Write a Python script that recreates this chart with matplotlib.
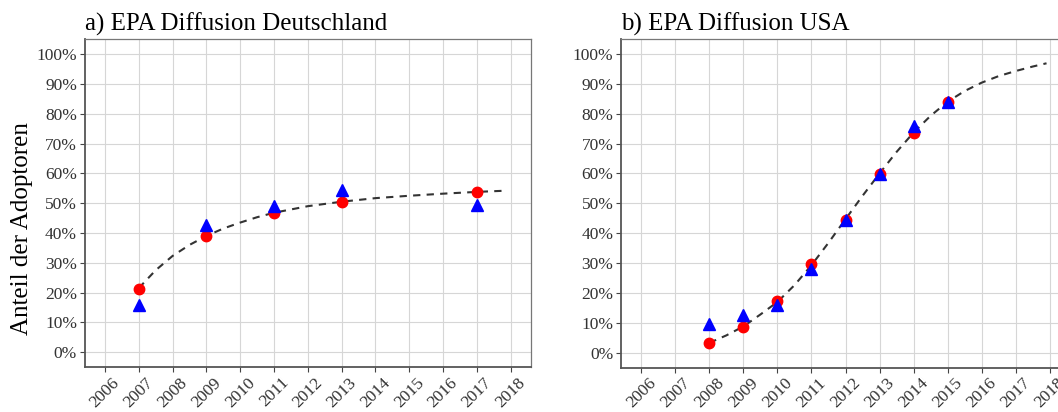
import matplotlib
matplotlib.use("Agg")
import matplotlib.pyplot as plt
from matplotlib.ticker import PercentFormatter

plt.rcParams['font.family'] = ['Liberation Serif', 'DejaVu Serif']

# --- Data ---
years_de = [2007, 2009, 2011, 2013, 2017]
de_red = [0.211, 0.391, 0.467, 0.504, 0.538]
de_blue = [0.159, 0.427, 0.492, 0.546, 0.494]
fit_years_de = [2007.0, 2007.5, 2008.0, 2008.5, 2009.0, 2009.5, 2010.0, 2010.5,
                2011.0, 2012.0, 2013.0, 2014.0, 2015.0, 2016.0, 2017.0, 2017.86]
fit_de = [0.215, 0.275, 0.323, 0.360, 0.390, 0.415, 0.435, 0.453,
          0.468, 0.490, 0.505, 0.517, 0.525, 0.532, 0.538, 0.542]

years_us = [2008, 2009, 2010, 2011, 2012, 2013, 2014, 2015]
us_red = [0.031, 0.086, 0.174, 0.296, 0.444, 0.598, 0.737, 0.840]
us_blue = [0.097, 0.126, 0.160, 0.281, 0.445, 0.597, 0.759, 0.841]
fit_years_us = [2008.0, 2008.5, 2009.0, 2009.5, 2010.0, 2010.5, 2011.0, 2011.5,
                2012.0, 2012.5, 2013.0, 2013.5, 2014.0, 2014.5, 2015.0, 2015.5,
                2016.0, 2016.5, 2017.0, 2017.5, 2017.91]
fit_us = [0.033, 0.058, 0.088, 0.128, 0.170, 0.226, 0.293, 0.368,
          0.447, 0.525, 0.600, 0.672, 0.737, 0.793, 0.840, 0.876,
          0.904, 0.926, 0.943, 0.958, 0.969]

year_ticks = list(range(2006, 2019))
pct_ticks = [i / 10 for i in range(11)]

W, H = 1058, 412
fig = plt.figure(figsize=(W / 100, H / 100), dpi=100)

ax1 = fig.add_axes([84.7 / W, (H - 367) / H, 446.3 / W, 327.6 / H])
ax2 = fig.add_axes([621 / W, (H - 367.6) / H, 449 / W, 328.5 / H])


def style_panel(ax, title):
    ax.set_xlim(2005.4, 2018.6)
    ax.set_ylim(-0.05, 1.05)
    ax.set_xticks(year_ticks)
    ax.set_xticklabels([str(y) for y in year_ticks], rotation=45,
                       ha='center', va='top')
    ax.set_yticks(pct_ticks)
    ax.yaxis.set_major_formatter(PercentFormatter(1.0, decimals=0))
    ax.grid(True, color='#d6d6d6', linewidth=0.8)
    ax.set_axisbelow(True)
    ax.tick_params(axis='both', labelsize=12.5, labelcolor='#333333',
                   color='#444444', length=3.5, width=0.8, pad=2)
    for s in ['top', 'right']:
        ax.spines[s].set_color('#777777')
        ax.spines[s].set_linewidth(0.9)
    for s in ['left', 'bottom']:
        ax.spines[s].set_color('#555555')
        ax.spines[s].set_linewidth(1.3)
    ax.set_title(title, loc='left', fontsize=18, pad=6, color='black')


# a) Germany
ax1.plot(fit_years_de, fit_de, color='#333333', linestyle=(0, (3.5, 3)),
         linewidth=1.5, zorder=2)
ax1.plot(years_de, de_red, 'o', color='red', markersize=7.5, zorder=3)
ax1.plot(years_de, de_blue, '^', color='blue', markersize=8.5, zorder=4)
style_panel(ax1, 'a) EPA Diffusion Deutschland')

# b) USA
ax2.plot(fit_years_us, fit_us, color='#333333', linestyle=(0, (3.5, 3)),
         linewidth=1.5, zorder=2)
ax2.plot(years_us, us_red, 'o', color='red', markersize=7.5, zorder=3)
ax2.plot(years_us, us_blue, '^', color='blue', markersize=8.5, zorder=4)
style_panel(ax2, 'b) EPA Diffusion USA')

fig.text(22 / W, 1 - 229 / H, 'Anteil der Adoptoren', rotation=90,
         ha='center', va='center', fontsize=18, color='black')

fig.savefig('out.png', dpi=100)
